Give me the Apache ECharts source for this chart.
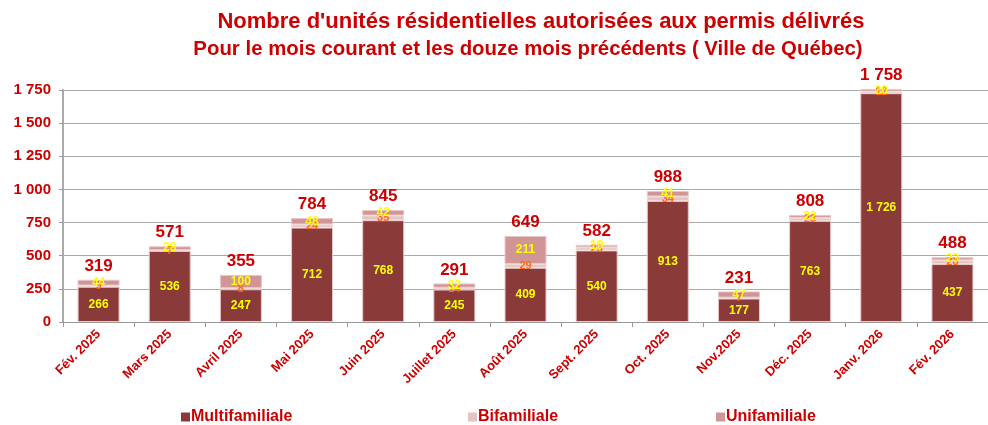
<!DOCTYPE html>
<html>
<head>
<meta charset="utf-8">
<script src="https://cdn.jsdelivr.net/npm/echarts@6/dist/echarts.min.js"></script>
<style>html,body{margin:0;padding:0;background:#fff;}#c{width:988px;height:425px;}</style>
</head>
<body>
<div id="c"></div>
<script>
var categories = ['Fév. 2025','Mars 2025','Avril 2025','Mai 2025','Juin 2025','Juillet 2025','Août 2025','Sept. 2025','Oct. 2025','Nov.2025','Déc. 2025','Janv. 2026','Fév. 2026'];
var multifamiliale = [266, 536, 247, 712, 768, 245, 409, 540, 913, 177, 763, 1726, 437];
var bifamiliale = [9, 7, 8, 24, 35, 14, 29, 23, 34, 7, 23, 12, 28];
var unifamiliale = [44, 28, 100, 48, 42, 32, 211, 19, 41, 47, 22, 20, 23];
var totals = multifamiliale.map(function(v, i){ return v + bifamiliale[i] + unifamiliale[i]; });
var yTicks = [0, 250, 500, 750, 1000, 1250, 1500, 1750];

function fmt(v){ return String(v).replace(/\B(?=(\d{3})+(?!\d))/g, ' '); }
var RED = '#CC0000';
var FONT = 'Liberation Sans, Arial, sans-serif';

var chart = echarts.init(document.getElementById('c'), null, {renderer: 'canvas'});
function legendAt(name, left){
  return {
    data: [name], left: left, top: 404, itemWidth: 9, itemHeight: 9, icon: 'rect',
    itemStyle: {borderWidth: 0},
    textStyle: {color: RED, fontWeight: 'bold', fontSize: 16, fontFamily: FONT, padding: [0,0,0,-4]},
    selectedMode: false
  };
}
chart.setOption({
  animation: false,
  title: [
    {
      text: "Nombre d'unités résidentielles autorisées aux permis délivrés",
      left: 536, top: 6, textAlign: 'center',
      textStyle: {color: RED, fontSize: 22, fontWeight: 'bold', fontFamily: FONT}
    },
    {
      text: "Pour le mois courant et les douze mois précédents ( Ville de Québec)",
      left: 523, top: 34, textAlign: 'center',
      textStyle: {color: RED, fontSize: 20.4, fontWeight: 'bold', fontFamily: FONT}
    }
  ],
  legend: [legendAt('Multifamiliale', 176), legendAt('Bifamiliale', 463), legendAt('Unifamiliale', 711)],
  grid: {left: 63, right: 0, top: 90, bottom: 103},
  xAxis: {
    type: 'category', data: categories,
    axisLine: {lineStyle: {color: '#999', width: 1}},
    axisTick: {show: true, alignWithLabel: false, length: 5, lineStyle: {color: '#999'}},
    axisLabel: {rotate: 45, color: RED, fontWeight: 'bold', fontSize: 13, fontFamily: FONT, margin: 10, interval: 0}
  },
  yAxis: {
    type: 'value', min: 0, max: 1750, interval: 250,
    axisLine: {show: true, lineStyle: {color: '#aaa', width: 2}},
    axisTick: {show: true, length: 4, lineStyle: {color: '#999'}},
    splitLine: {lineStyle: {color: '#aaa', width: 1}},
    axisLabel: {color: RED, fontWeight: 'bold', fontSize: 15, fontFamily: FONT, margin: 12,
      formatter: function(v){ return yTicks.indexOf(v) >= 0 ? fmt(v) : ''; }}
  },
  series: [
    {
      name: 'Multifamiliale', type: 'bar', stack: 'a', data: multifamiliale, barWidth: 42, clip: false,
      itemStyle: {color: '#8B3A3A', borderColor: '#E8C8C8', borderWidth: 1},
      label: {show: true, position: 'inside', color: '#FFFF00', fontWeight: 'bold', fontSize: 12, fontFamily: FONT, formatter: function(p){ return fmt(p.value); }}
    },
    {
      name: 'Bifamiliale', type: 'bar', stack: 'a', data: bifamiliale, clip: false,
      itemStyle: {color: '#E6C2C2', borderColor: '#F0DADA', borderWidth: 1},
      label: {show: true, position: 'inside', color: '#FF6A1A', fontWeight: 'bold', fontSize: 11, fontFamily: FONT}
    },
    {
      name: 'Unifamiliale', type: 'bar', stack: 'a', data: unifamiliale, clip: false,
      itemStyle: {color: '#D29595', borderColor: '#E8C8C8', borderWidth: 1},
      label: {show: true, position: 'inside', color: '#FFFF00', fontWeight: 'bold', fontSize: 12, fontFamily: FONT}
    },
    {
      name: 'Total', type: 'bar', stack: 'a', data: totals.map(function(){ return 0; }), silent: true, clip: false,
      itemStyle: {color: 'rgba(0,0,0,0)'},
      label: {show: true, position: 'top', distance: 5, color: RED, fontWeight: 'bold', fontSize: 17, fontFamily: FONT, formatter: function(p){ return fmt(totals[p.dataIndex]); }}
    }
  ]
});
</script>
</body>
</html>
